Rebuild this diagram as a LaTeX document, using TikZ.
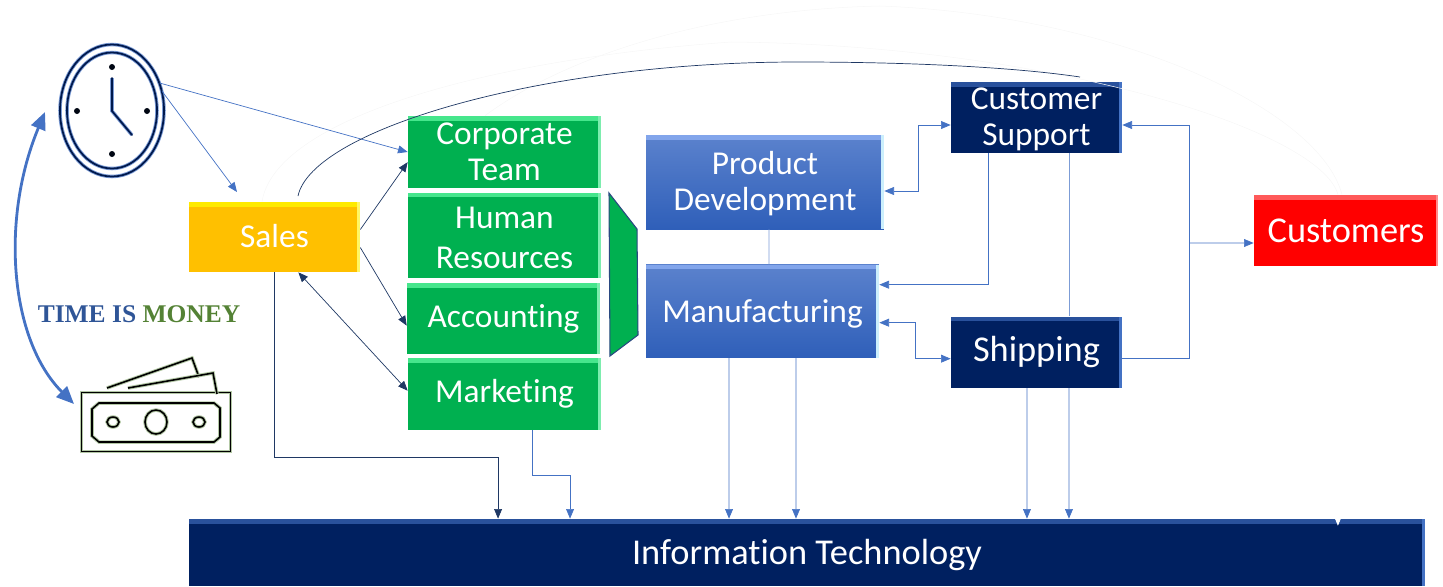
\documentclass[tikz,border=0pt]{standalone}
\usepackage{xcolor}
\usepackage{fontspec}
\setmainfont{Carlito}[Ligatures=CommonOff]
\newfontfamily\timefont{Liberation Serif}
\usetikzlibrary{shapes.geometric, arrows.meta, positioning}
\definecolor{navycolor}{RGB}{0, 32, 96}
\definecolor{linecolor}{RGB}{68, 114, 196}
\definecolor{darkline}{RGB}{31, 56, 100}
\definecolor{greencolor}{RGB}{0, 176, 80}
\definecolor{greenedge}{RGB}{70, 230, 140}
\definecolor{bluetop}{RGB}{91, 130, 205}
\definecolor{bluebottom}{RGB}{47, 95, 185}
\definecolor{blueedge}{RGB}{130, 165, 235}
\definecolor{amber}{RGB}{255, 192, 0}
\definecolor{timeblue}{RGB}{47, 85, 151}
\definecolor{timegreen}{RGB}{84, 130, 53}
\tikzset{
    bevel/.style n args={2}{path picture={
        \fill[#1] (path picture bounding box.north west) rectangle ([yshift=-0.09cm]path picture bounding box.north east);
        \fill[#2] (path picture bounding box.north east) rectangle ([xshift=-0.05cm]path picture bounding box.south east);
    }}
}

\begin{document}
\begin{tikzpicture}[
    x=0.02cm, y=-0.02cm,
    box/.style={rectangle, inner sep=0pt, align=center, text=white, font=\fontsize{19}{20.5}\selectfont},
    bigtext/.style={font=\fontsize{20.7}{22}\selectfont},
    greenbox/.style={box, fill=greencolor, minimum width=3.86cm, bevel={greenedge}{greenedge!70!white}},
    bluebox/.style={box, top color=bluetop, bottom color=bluebottom, bevel={blueedge}{cyan!20!white}},
    navybox/.style={box, fill=navycolor, minimum width=3.42cm, minimum height=1.42cm, bevel={linecolor!60!navycolor}{linecolor}},
    arrow/.style={-{Triangle[length=5.5pt,width=4.5pt]}, linecolor, line width=0.4pt},
    twoway/.style={{Triangle[length=5.5pt,width=4.5pt]}-{Triangle[length=5.5pt,width=4.5pt]}, linecolor, line width=0.4pt},
    bigway/.style={{Triangle[length=10pt,width=8.5pt]}-{Triangle[length=10pt,width=8.5pt]}, linecolor, line width=1.6pt},
    plain/.style={linecolor!70!white, line width=0.4pt},
    darkarrow/.style={-{Triangle[length=5.5pt,width=4.5pt]}, darkline, line width=0.4pt},
    darktwoway/.style={{Triangle[length=5.5pt,width=4.5pt]}-{Triangle[length=5.5pt,width=4.5pt]}, darkline, line width=0.4pt},
    whitearrow/.style={-{Triangle[length=5.5pt,width=4.5pt]}, white, line width=0.4pt},
    faint/.style={black!3, line width=0.3pt},
    clockline/.style={navycolor!80!black, line width=1pt, preaction={draw=linecolor!70!white, line width=2pt}},
    moneyline/.style={black, line width=0.9pt, preaction={draw=timegreen!45!white, line width=2pt}},
]
    \useasboundingbox (0,0) rectangle (1443,586);

    % nodes
    \node[box, fill=amber, minimum width=3.42cm, minimum height=1.4cm, bevel={yellow!85!amber}{yellow!60!white}] (sales) at (274.5,237) {\raisebox{1pt}{Sales}};
    \node[greenbox, minimum height=1.44cm] (corp) at (504.5,152) {Corporate\\Team};
    \node[greenbox, minimum height=1.7cm, below=0.08cm of corp] (hr) {\rule{0pt}{15.4pt}Human\\[2pt]Resources};
    \node[greenbox, minimum height=1.42cm, below=0.1cm of hr, xshift=-0.02cm] (acct) {Accounting};
    \node[greenbox, minimum height=1.44cm, below=0.06cm of acct, xshift=0.02cm] (mkt) {Marketing};
    \node[bluebox, minimum width=4.76cm, minimum height=1.88cm] (dev) at (765,182) {\rule{0pt}{15.5pt}Product\\Development};
    \node[bluebox, minimum width=4.66cm, minimum height=1.86cm, below=0.7cm of dev.south west, anchor=north west] (mfg) {\rule{0pt}{16.1pt}Manufacturing};
    \node[navybox] (support) at (1036.5,117.5) {\rule{0pt}{14.7pt}Customer\\Support};
    \node[navybox, bigtext, below=3.26cm of support] (ship) {Shipping};
    \node[box, bigtext, fill=red, minimum width=3.68cm, minimum height=1.42cm, bevel={red!65!white}{red!45!white}] (cust) at (1346,230.5) {Customers};
    \node[navybox, bigtext, minimum width=24.72cm, minimum height=1.34cm] (it) at (807,552.5) {\rule{0pt}{17.2pt}Information Technology};
    \node[inner sep=0pt, font=\timefont\bfseries\fontsize{14.5}{16}\selectfont] (motto) at (139,314) {\textcolor{timeblue}{TIME IS} \textcolor{timegreen}{MONEY}};
    \node[ellipse, inner sep=0pt, minimum width=2.08cm, minimum height=2.64cm] (clock) at (112,110.5) {};
    \node[rectangle, inner sep=0pt, minimum width=2.96cm, minimum height=1.16cm] (money) at (156,422) {};

    % funnel
    \draw[darkline!70!linecolor, line width=0.6pt, fill=greencolor] (609,193) -- (637,229) -- (638,335) -- (610,356) -- cycle;

    % clock
    \draw[clockline] (clock.center) ellipse [x radius=52, y radius=66];
    \draw[clockline] (clock.center) ellipse [x radius=45, y radius=58];
    \draw[clockline, line cap=round, line join=round] (112,78) -- (112,111) -- (132,135);
    \foreach \dotx/\doty in {112/67, 112/154, 77/111, 147/111}
        \fill[black!80!navycolor] (\dotx,\doty) circle [radius=3];

    % money
    \draw[moneyline] (money.north west) rectangle (money.south east);
    \draw[moneyline] (99,403) -- (214,403) -- (220,408) -- (220,437) -- (214,442) -- (99,442) -- (92,436) -- (92,409) -- cycle;
    \draw[moneyline] (156,422) ellipse [x radius=11, y radius=12];
    \draw[moneyline] (113,422) ellipse [x radius=6, y radius=5];
    \draw[moneyline] (199,422) ellipse [x radius=6, y radius=5];
    \draw[moneyline] (107,388) -- (192,358) -- (199,377);
    \draw[moneyline] (128,388) -- (213,373) -- (217,394);

    % free ends
    \coordinate (clockin) at (45,112);
    \coordinate (moneyin) at (74,404);
    \coordinate (salesin) at (237,192);
    \coordinate (salestop) at (298,196);
    \coordinate (supporttop) at (1080,77);
    \coordinate (branch) at (1189,243);

    % faint curves
    \draw[faint] ([xshift=-0.25cm]sales.north) .. controls (275,120) and (480,60) .. (731,42) .. controls (1050,45) and (1320,130) .. ([xshift=-0.16cm]cust.north);
    \draw[faint] ([xshift=-0.39cm]corp.north) .. controls (560,60) and (700,10) .. (880,6) .. controls (1120,15) and (1320,110) .. ([xshift=-0.08cm]cust.north);

    % connectors
    \draw[bigway] (clockin) .. controls (0,220) and (10,340) .. (moneyin);
    \draw[arrow] (clock.30) -- (corp.west);
    \draw[arrow] (clock.21) -- (salesin);
    \draw[darkline, line width=0.4pt] (salestop) .. controls (312,130) and (540,62) .. (798,62) .. controls (920,62) and (1020,68) .. (supporttop);
    \draw[darkarrow] (sales.5) -- (corp.186);
    \draw[darkarrow] (sales.-7) -- (acct.184);
    \draw[darktwoway] (sales.-56) -- (mkt.178);
    \draw[darkarrow] (sales.south) -- ++(0,185) -| ([xshift=-6.18cm]it.north);
    \draw[arrow] ([xshift=0.55cm]mkt.south) -- ++(0,45) -| ([xshift=-4.74cm]it.north);
    \draw[plain] ([xshift=0.08cm]dev.south) -- ([xshift=0.13cm]mfg.north);
    \draw[arrow] ([xshift=-0.67cm]mfg.south) -- ([xshift=-1.56cm]it.north);
    \draw[arrow] ([xshift=0.67cm]mfg.south) -- ([xshift=-0.22cm]it.north);
    \draw[twoway] ([yshift=-0.18cm]dev.east) -- ++(34,0) |- ([yshift=-0.15cm]support.west);
    \draw[arrow] ([xshift=-0.97cm]support.south) |- ([yshift=0.53cm]mfg.east);
    \draw[twoway] ([yshift=-0.23cm]mfg.east) -- ++(36,0) |- ([yshift=-0.13cm]ship.west);
    \draw[plain] ([xshift=0.65cm]support.south) -- ([xshift=0.65cm]ship.north);
    \draw[arrow] ([xshift=-0.19cm]ship.south) -- ([xshift=4.4cm]it.north);
    \draw[arrow] ([xshift=0.65cm]ship.south) -- ([xshift=5.24cm]it.north);
    \draw[arrow] ([yshift=-0.13cm]ship.east) -- ++(67,0) |- ([yshift=-0.15cm]support.east);
    \draw[arrow] (branch) -- ([yshift=-0.25cm]cust.west);
    \draw[whitearrow] ([xshift=-0.16cm]cust.south) -- ([xshift=10.62cm,yshift=-0.14cm]it.north);
\end{tikzpicture}
\end{document}
